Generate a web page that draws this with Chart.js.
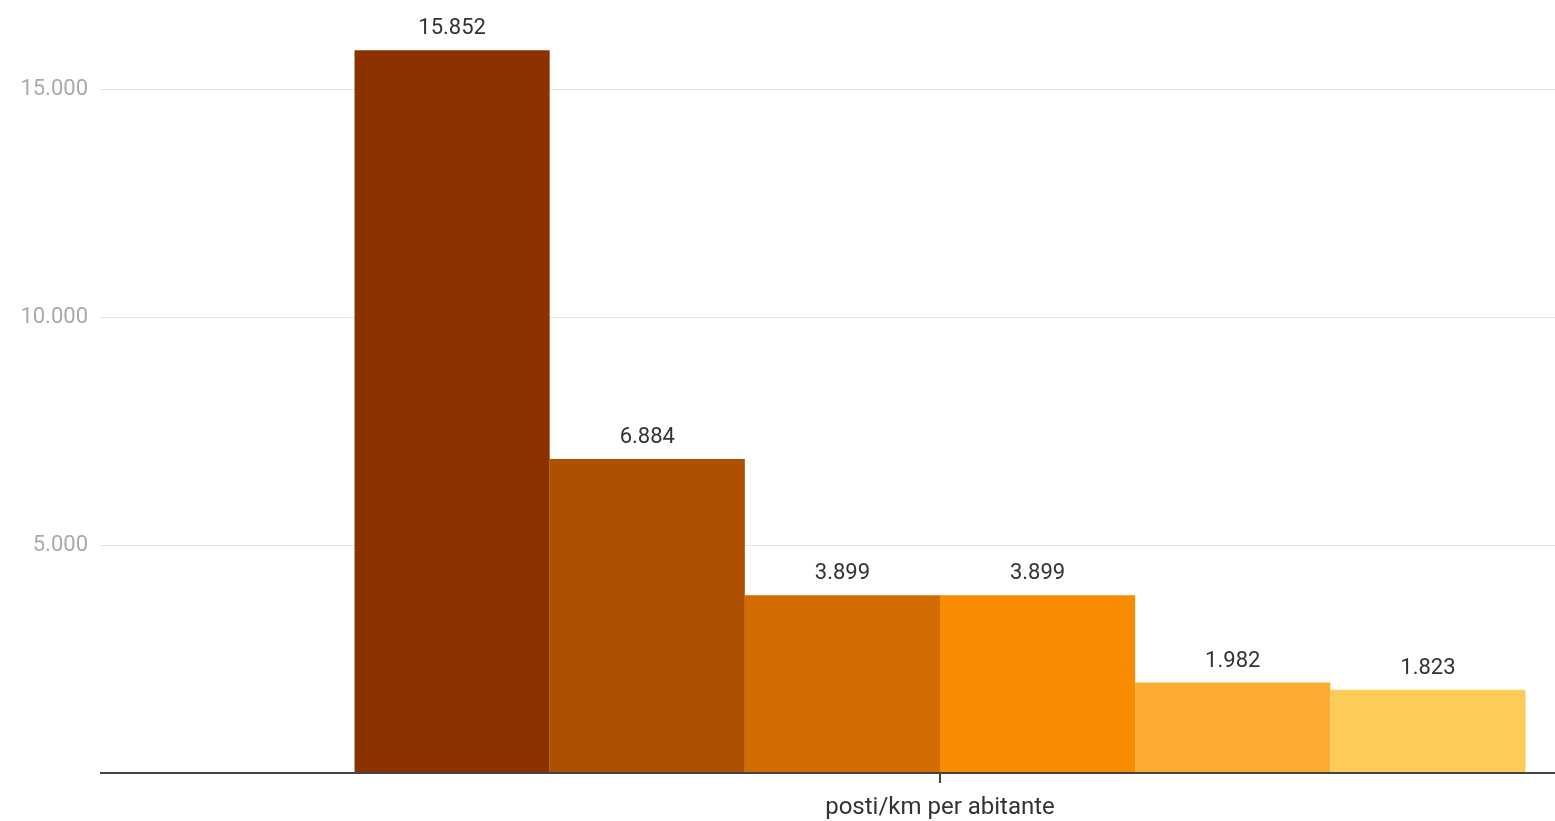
<!DOCTYPE html>
<html lang="it">
<head>
<meta charset="utf-8">
<title>posti/km per abitante</title>
<script src="https://cdn.jsdelivr.net/npm/chart.js@4.4.1/dist/chart.umd.min.js"></script>
<style>
  html, body { margin: 0; padding: 0; background: #fff; }
  #wrap { width: 1555px; height: 821px; position: relative; }
</style>
</head>
<body>
<div id="wrap"><canvas id="grafico"></canvas></div>
<script>
// Dati del grafico
const categorie = ['posti/km per abitante'];
const nomiSerie = ['Serie 1', 'Serie 2', 'Serie 3', 'Serie 4', 'Serie 5', 'Serie 6'];
const valori = [15852, 6884, 3899, 3899, 1982, 1823];
const colori = ['#8c3100', '#ae5000', '#d26c00', '#f98b00', '#fbaa32', '#fdcb58'];
const tickY = [0, 5000, 10000, 15000];

// Separatore delle migliaia all'italiana
function formatta(v) {
    return String(v).replace(/\B(?=(\d{3})+(?!\d))/g, '.');
}

// Etichette con il valore sopra ogni barra
const etichetteValori = {
    id: 'etichetteValori',
    afterDatasetsDraw(chart) {
        const ctx = chart.ctx;
        ctx.save();
        ctx.font = '22px Roboto';
        ctx.fillStyle = '#333333';
        ctx.textAlign = 'center';
        ctx.textBaseline = 'alphabetic';
        chart.data.datasets.forEach((ds, i) => {
            const meta = chart.getDatasetMeta(i);
            meta.data.forEach((bar, j) => {
                ctx.fillText(formatta(ds.data[j]), bar.x, bar.y - 16);
            });
        });
        ctx.restore();
    }
};

const datasets = valori.map((v, i) => ({
    label: nomiSerie[i],
    data: [v],
    backgroundColor: colori[i],
    borderWidth: 0,
    barPercentage: 1,
    categoryPercentage: 0.952
}));

new Chart(document.getElementById('grafico'), {
    type: 'bar',
    data: { labels: categorie, datasets: datasets },
    options: {
        responsive: true,
        maintainAspectRatio: false,
        animation: false,
        layout: { padding: { top: 1, right: 0, bottom: 0, left: 0 } },
        plugins: {
            legend: { display: false },
            tooltip: { enabled: false }
        },
        scales: {
            x: {
                afterFit(scale) {
                    scale.height = 48;
                },
                border: { display: false },
                grid: {
                    offset: false,
                    drawOnChartArea: false,
                    drawTicks: true,
                    tickLength: 10,
                    color: '#444444',
                    lineWidth: 2
                },
                ticks: {
                    font: { family: 'Roboto', size: 24 },
                    color: '#333333',
                    padding: 11
                }
            },
            y: {
                min: 0,
                max: 16930,
                afterBuildTicks(scale) {
                    scale.ticks = tickY.map(v => ({ value: v }));
                },
                afterFit(scale) {
                    scale.width = 325;
                    scale.paddingTop = 0;
                    scale.paddingBottom = 0;
                },
                border: { display: false },
                grid: {
                    tickLength: 225,
                    color: ctx => ctx.tick && ctx.tick.value === 0 ? '#444444' : '#e3e3e3',
                    lineWidth: ctx => ctx.tick && ctx.tick.value === 0 ? 2 : 1
                },
                ticks: {
                    font: { family: 'Roboto', size: 22 },
                    color: '#aaaaaa',
                    padding: 12,
                    callback: v => v === 0 ? '' : formatta(v)
                }
            }
        }
    },
    plugins: [etichetteValori]
});
</script>
</body>
</html>
